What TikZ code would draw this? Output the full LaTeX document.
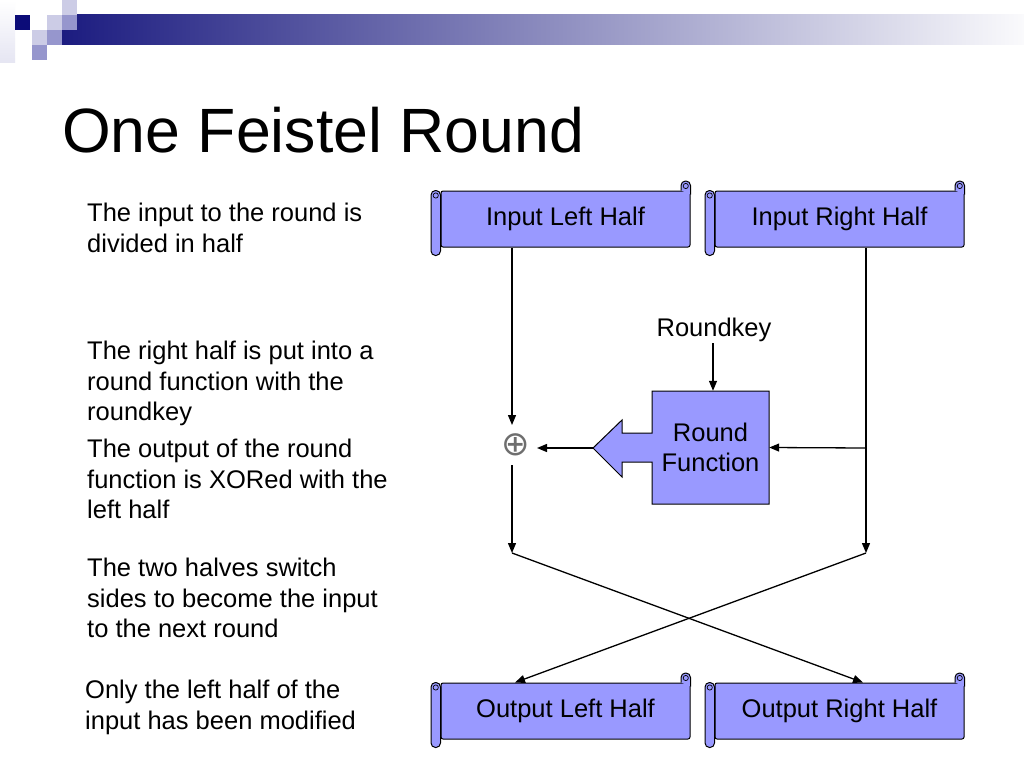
\documentclass[tikz,border=0pt]{standalone}
\usepackage{fontspec}
\setmainfont{Liberation Sans}
\newfontfamily\dejavu{DejaVu Sans}
\usetikzlibrary{calc,arrows.meta}
\definecolor{boxfill}{RGB}{153,153,255}
\definecolor{navyc}{RGB}{12,12,120}
\definecolor{barleft}{RGB}{28,28,128}
\definecolor{barmid}{RGB}{160,160,188}
\definecolor{barright}{RGB}{250,250,252}
\definecolor{sqlight}{RGB}{204,204,230}
\definecolor{sqmed}{RGB}{150,150,205}
\definecolor{xorgray}{RGB}{110,110,110}
\tikzset{
  arr/.style={line width=1.3pt,-{Triangle[length=10pt,width=8pt]}},
  plain/.style={line width=1.3pt},
  scrollbody/.style={draw,line width=1pt,fill=boxfill,minimum width=249pt,minimum height=56pt,inner sep=0pt,rounded corners=2pt,font=\fontsize{25.5}{30}\selectfont},
  scrollpart/.style={draw,line width=1pt,fill=boxfill},
  note/.style={anchor=north west,align=left,inner sep=0pt,font=\fontsize{25.5}{30.5}\selectfont},
  rfbox/.style={minimum width=117pt,minimum height=113pt,inner sep=0pt,align=center,font=\fontsize{25.5}{30}\selectfont},
}
\newcommand\scrollshape[4]{%
  \node[scrollbody] (#1) at (#2,#3) {#4};
  \draw[scrollpart,rounded corners=4.5pt] ($(#1.north west)+(-9.5,0)$) rectangle ($(#1.south west)+(0,8)$);
  \draw[line width=0.7pt] ($(#1.north west)+(-4.75,5)$) circle[radius=2.6pt];
  \filldraw[scrollpart,rounded corners=4.5pt] ($(#1.north east)+(-9.5,0)$) -- ($(#1.north east)+(-9.5,-9.5)$) -- ($(#1.north east)+(0,-9.5)$) -- ($(#1.north east)+(0,4)$);
  \draw[line width=0.7pt] ($(#1.north east)+(-4.75,-4.5)$) circle[radius=2.6pt];
}
\begin{document}
\begin{tikzpicture}[x=1pt,y=-1pt]
\useasboundingbox (0,0) rectangle (1024,768);
\fill[white] (0,0) rectangle (1024,768);
% header decoration
\shade[top color=white,bottom color=sqlight!50] (0,0) rectangle (15,62);
\shade[left color=barleft,middle color=barmid,right color=barright] (62,15) rectangle (1024,45);
\fill[navyc] (15,15) rectangle (30,30);
\fill[sqlight] (47,15) rectangle (62,30);
\fill[sqlight] (62,0) rectangle (77,15);
\fill[sqlight] (32,30) rectangle (47,45);
\fill[sqmed] (62,15) rectangle (77,30);
\fill[sqmed] (47,30) rectangle (62,45);
\fill[sqmed] (32,45) rectangle (47,60);
% title
\node[anchor=base west,inner sep=0pt,font=\fontsize{62.6}{70}\selectfont] (title) at (62,152) {One Feistel Round};
% notes
\node[note] (n1) at (87,203) {The input to the round is\\divided in half};
\node[note] (n2) at (87,341) {The right half is put into a\\round function with the\\roundkey};
\node[note] (n3) at (87,439) {The output of the round\\function is XORed with the\\left half};
\node[note] (n4) at (87,558) {The two halves switch\\sides to become the input\\to the next round};
\node[note] (n5) at (85,680) {Only the left half of the\\input has been modified};
% scrolls
\scrollshape{inL}{565.5}{219}{Input Left Half}
\scrollshape{inR}{839.5}{219}{Input Right Half}
\scrollshape{outL}{565.5}{711}{Output Left Half}
\scrollshape{outR}{839.5}{711}{Output Right Half}
% round function callout
\filldraw[draw=black,line width=1pt,fill=boxfill] (652,391) -- (769,391) -- (769,504) -- (652,504) -- (652,462) -- (622,462) -- (622,477) -- (593,448) -- (622,420) -- (622,433) -- (652,433) -- cycle;
\node[rfbox] (rf) at (710.5,447.5) {Round\\Function};
\coordinate (rftip) at (593,448);
% roundkey
\node[anchor=base,inner sep=2pt,font=\fontsize{25.5}{30}\selectfont] (rk) at (714,336) {Roundkey};
\draw[arr] (rk.south -| 713,0) -- (rf.north -| 713,0);
% xor
\node[inner sep=0pt,text=xorgray,font=\dejavu\fontsize{34}{34}\selectfont] (xor) at (516,445) {⊕};
\coordinate (xn) at (512,425);
\coordinate (xs) at (512,465);
\coordinate (xe) at (537,448);
\coordinate (lb) at (512,553);
\coordinate (rb) at (866,553);
\coordinate (rmid) at (866,448);
% connectors
\draw[arr] (inL.south -| xn) -- (xn);
\draw[arr] (xs) -- (lb);
\draw[arr] (rftip) -- (xe);
\draw[plain] (inR.south -| rb) -- (rmid);
\draw[arr] (rmid) -- (rb);
\draw[arr] (rmid) -- (rf.east);
\draw[arr] (lb) -- ($(outR.north)+(23.5,0)$);
\draw[arr] (rb) -- ($(outL.north)+(-50.5,0)$);
\end{tikzpicture}
\end{document}
